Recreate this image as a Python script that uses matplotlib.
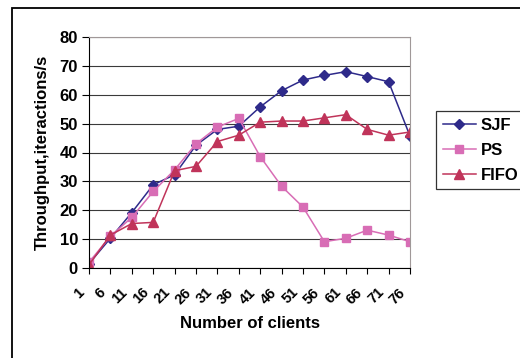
import matplotlib.pyplot as plt
import matplotlib.transforms as mtransforms
from matplotlib.patches import Rectangle

plt.rcParams['font.family'] = ['Liberation Sans', 'DejaVu Sans']
plt.rcParams['font.weight'] = 'bold'

clients = [1, 6, 11, 16, 21, 26, 31, 36, 41, 46, 51, 56, 61, 66, 71, 76]
sjf = [1.5, 10.3, 19.2, 28.8, 32.3, 42.5, 48.0, 49.1, 55.8, 61.4, 65.1, 66.7, 68.0, 66.3, 64.5, 45.7]
ps = [2.0, 11.0, 17.5, 26.5, 34.0, 43.0, 48.8, 51.8, 38.6, 28.3, 21.1, 9.1, 10.3, 13.1, 11.4, 9.1]
fifo = [1.1, 11.4, 15.4, 15.8, 33.7, 35.2, 43.8, 46.0, 50.5, 50.9, 50.9, 52.0, 53.1, 48.0, 46.0, 47.1]

fig = plt.figure(figsize=(5.2, 3.58), dpi=100)
ax = fig.add_axes([89 / 520, 1 - 268 / 358, 321 / 520, 231 / 358])

# outer chart frame (runs off the right and bottom edges)
fig.patches.append(Rectangle((12 / 520, -0.1), 1.2, 1 - 8 / 358 + 0.1,
                             transform=fig.transFigure, fill=False,
                             edgecolor='black', lw=1.3))

pos = list(range(len(clients)))
ax.plot(pos, sjf, color='#2E2A8A', marker='D', ms=5, lw=1.1, label='SJF')
ax.plot(pos, ps, color='#D86DB5', marker='s', ms=6, lw=1.1, label='PS')
ax.plot(pos, fifo, color='#C0345A', marker='^', ms=7, lw=1.1, label='FIFO')

ax.set_xlim(0, len(clients) - 1)
ax.set_ylim(0, 80)
ax.set_yticks(range(0, 81, 10))
ax.set_xticks(pos)
ax.set_xticklabels([str(c) for c in clients], rotation=45, ha='right', va='center',
                   rotation_mode='anchor', fontsize=10.5, fontweight='bold')
ax.tick_params(axis='y', labelsize=12, length=5, width=0.8, pad=3)
ax.tick_params(axis='x', length=4, width=0.8, pad=12)
shift = mtransforms.ScaledTranslation(-7 / 100, 0, fig.dpi_scale_trans)
for lab in ax.get_xticklabels():
    lab.set_transform(lab.get_transform() + shift)

ax.yaxis.grid(True, color='#3a3a3a', lw=0.8)
ax.set_axisbelow(True)
ax.spines['left'].set_color('black')
ax.spines['bottom'].set_color('black')
ax.spines['top'].set_color('#a09898')
ax.spines['right'].set_color('#a09898')

ax.set_ylabel('Throughput,iteractions/s', fontsize=12, fontweight='bold', labelpad=7)
ax.set_xlabel('Number of clients', fontsize=12, fontweight='bold', labelpad=7)

leg = fig.legend(loc='upper left', bbox_to_anchor=(436 / 520, 1 - 111 / 358),
                 frameon=True, fancybox=False, edgecolor='black',
                 fontsize=12, handlelength=2.0, borderpad=0.4,
                 borderaxespad=0, labelspacing=0.6, handletextpad=0.3)
leg.get_frame().set_linewidth(0.9)
for t in leg.get_texts():
    t.set_fontweight('bold')

fig.savefig('out.png', dpi=100)
